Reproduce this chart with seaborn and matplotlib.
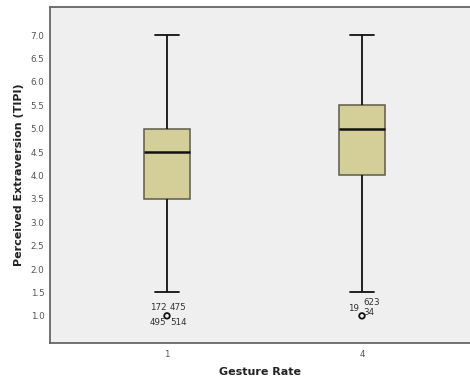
import numpy as np
import pandas as pd
import matplotlib
matplotlib.use("Agg")
import matplotlib.pyplot as plt
import seaborn as sns

# Data
gesture_rates = ["1", "4"]
# per-group samples that reproduce the box statistics (no outliers)
rate1_scores = [1.5, 2.5, 3.5, 4.0, 4.5, 4.5, 5.0, 6.0, 7.0]
rate4_scores = [1.5, 3.0, 4.0, 4.5, 5.0, 5.0, 5.5, 6.0, 7.0]
outlier_groups = ["1", "4"]
outlier_values = [1.0, 1.0]
outlier_ids = [["172", "475", "495", "514"], ["19", "623", "34"]]

df = pd.DataFrame({
    "Gesture Rate": ["1"] * len(rate1_scores) + ["4"] * len(rate4_scores),
    "Score": rate1_scores + rate4_scores,
})
out_df = pd.DataFrame({"Gesture Rate": outlier_groups, "Score": outlier_values})

sns.set_theme(style="white")
plt.rcParams.update({
    "font.family": ["DejaVu Sans"],
    "axes.facecolor": "#efefef",
})

fig = plt.figure(figsize=(4.7, 3.81), dpi=100)
ax = fig.add_axes([50 / 470, 38 / 381, 1 - 50 / 470, 336 / 381])

sns.boxplot(
    data=df, x="Gesture Rate", y="Score", order=gesture_rates,
    width=0.24, whis=(0, 100), color="#d4cf98", saturation=1,
    linecolor="#111111", linewidth=1.3,
    boxprops=dict(edgecolor="#5e5b48", linewidth=1.1),
    medianprops=dict(color="#111111", linewidth=1.8),
    ax=ax,
)
sns.scatterplot(
    data=out_df, x="Gesture Rate", y="Score", ax=ax,
    marker="o", s=16, facecolor="none", edgecolor="#111111", linewidth=1.3,
)

# case-number labels next to the outliers
offsets = [
    [(-17, 8), (3, 8), (-17, -7), (3, -7)],
    [(-14, 7), (1, 13), (1, 3)],
]
for i, (ids, offs) in enumerate(zip(outlier_ids, offsets)):
    for lab, (dx, dy) in zip(ids, offs):
        ax.annotate(lab, (i, outlier_values[i]), xytext=(dx, dy),
                    textcoords="offset pixels", fontsize=6.3,
                    color="#333333", va="center")

ax.set_xlim(-0.6, 1.554)
ax.set_ylim(0.42, 7.6)
ax.set_yticks(np.arange(1.0, 7.01, 0.5))
ax.set_yticklabels([f"{v:.1f}" for v in np.arange(1.0, 7.01, 0.5)])
ax.tick_params(axis="both", direction="out", length=3, width=0.8,
               colors="#555555", labelsize=6.3, labelcolor="#555555", pad=1)
ax.tick_params(axis="x", pad=2)

for side in ["left", "bottom", "top"]:
    ax.spines[side].set_color("#666666")
    ax.spines[side].set_linewidth(1.3)
ax.spines["right"].set_visible(False)

ax.set_xlabel("Gesture Rate", fontsize=8, fontweight="bold", color="#222222", labelpad=6)
ax.set_ylabel("Perceived Extraversion (TIPI)", fontsize=8, fontweight="bold",
              color="#222222", labelpad=5)

fig.savefig("out.png", dpi=100)
